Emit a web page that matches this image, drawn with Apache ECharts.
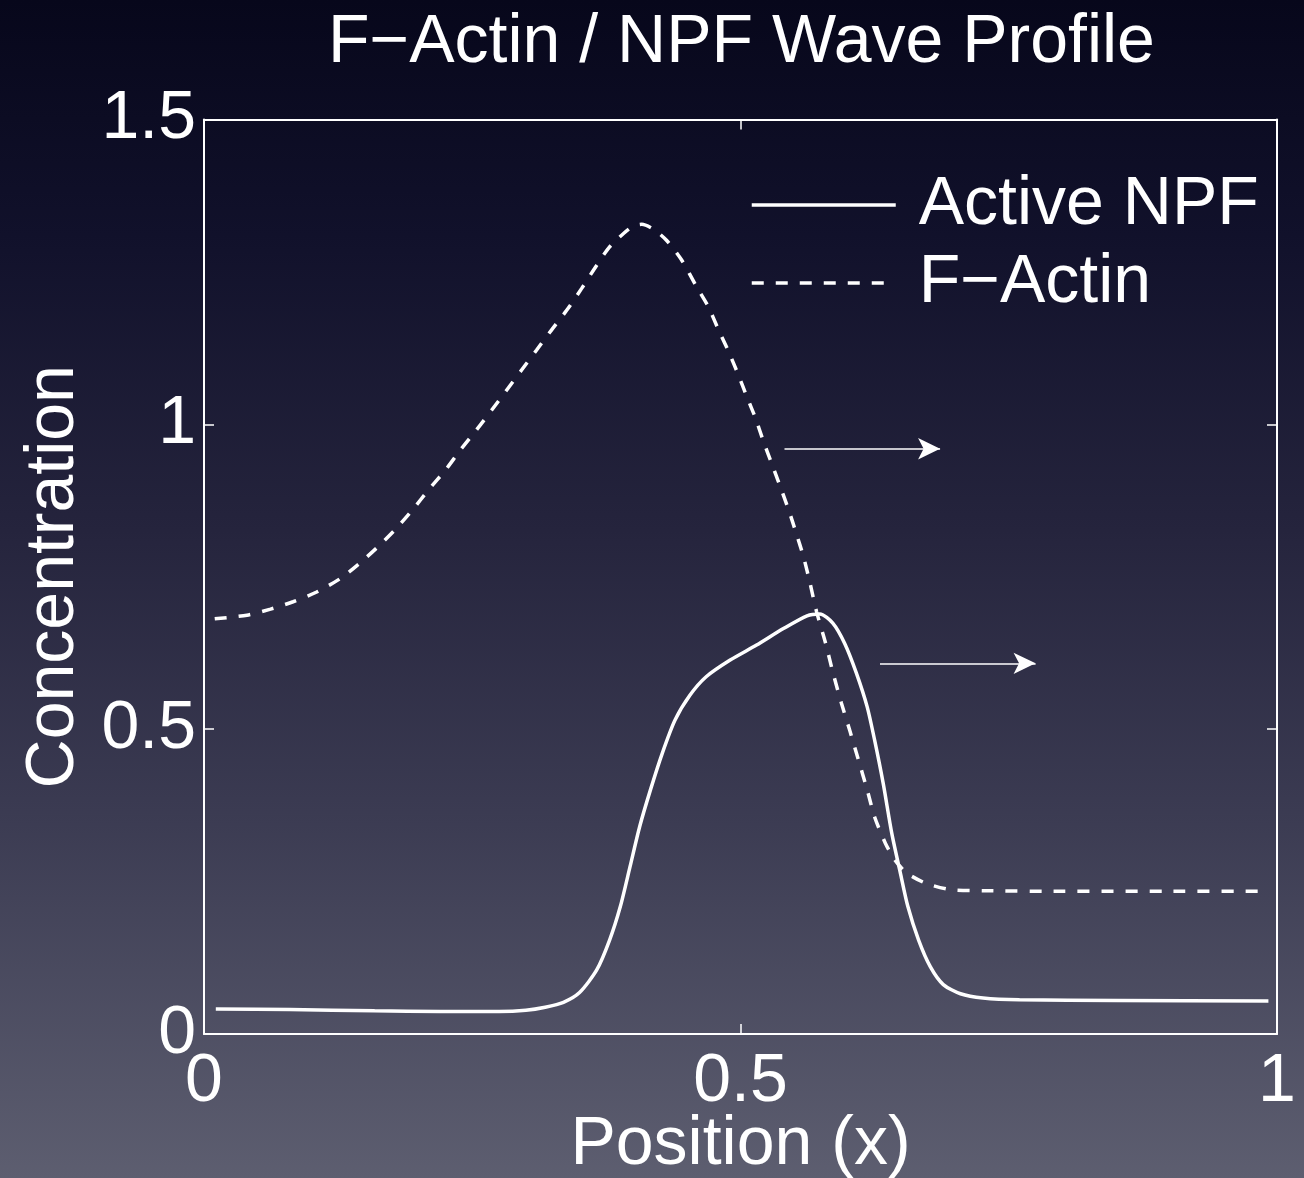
<!DOCTYPE html>
<html>
<head>
<meta charset="utf-8">
<style>
  html, body { margin: 0; padding: 0; background: #1c1c34; }
  #chart { width: 1304px; height: 1178px; }
</style>
<script src="https://cdn.jsdelivr.net/npm/echarts@6/dist/echarts.min.js"></script>
</head>
<body>
<div id="chart"></div>
<script>
// ---- data ----
const titleText = 'F\u2212Actin / NPF Wave Profile';
const xAxisName = 'Position (x)';
const yAxisName = 'Concentration';
const seriesNames = ['Active NPF', 'F\u2212Actin'];

const npfX = [0.011, 0.08, 0.159, 0.22, 0.275, 0.300, 0.318, 0.335, 0.350, 0.366, 0.378, 0.388, 0.397, 0.406,
  0.416, 0.427, 0.439, 0.453, 0.468, 0.490, 0.515, 0.540, 0.562, 0.574, 0.586, 0.597, 0.608, 0.618,
  0.625, 0.633, 0.641, 0.649, 0.656, 0.666, 0.677, 0.689, 0.705, 0.726, 0.760, 0.85, 0.992];
const npfY = [0.041, 0.040, 0.038, 0.037, 0.037, 0.039, 0.044, 0.052, 0.068, 0.105, 0.154, 0.209, 0.274, 0.340,
  0.400, 0.460, 0.515, 0.556, 0.586, 0.613, 0.638, 0.665, 0.686, 0.689, 0.674, 0.641, 0.592, 0.537,
  0.482, 0.411, 0.329, 0.264, 0.209, 0.154, 0.110, 0.081, 0.066, 0.059, 0.056, 0.055, 0.054];

const actinX = [0.01, 0.04, 0.062, 0.083, 0.105, 0.127, 0.145, 0.162, 0.178, 0.194, 0.209, 0.225, 0.239, 0.254,
  0.268, 0.282, 0.296, 0.310, 0.324, 0.338, 0.352, 0.366, 0.378, 0.391, 0.400, 0.408, 0.419, 0.431,
  0.445, 0.459, 0.470, 0.479, 0.489, 0.498, 0.506, 0.514, 0.521, 0.529, 0.537, 0.545, 0.552, 0.559,
  0.565, 0.571, 0.579, 0.586, 0.594, 0.602, 0.610, 0.618, 0.625, 0.635, 0.644, 0.655, 0.673, 0.695,
  0.726, 0.80, 0.90, 0.984];
const actinY = [0.681, 0.687, 0.697, 0.709, 0.725, 0.747, 0.772, 0.799, 0.827, 0.859, 0.892, 0.925, 0.958, 0.991,
  1.023, 1.056, 1.089, 1.122, 1.155, 1.187, 1.223, 1.261, 1.291, 1.313, 1.325, 1.328, 1.320, 1.302,
  1.270, 1.226, 1.193, 1.157, 1.119, 1.081, 1.045, 1.010, 0.974, 0.936, 0.898, 0.859, 0.821, 0.781,
  0.738, 0.692, 0.643, 0.594, 0.543, 0.497, 0.449, 0.401, 0.356, 0.313, 0.285, 0.264, 0.247, 0.237,
  0.235, 0.234, 0.234, 0.234];

// direction arrows (start x, end x, y)
const arrowStartX = [0.541, 0.630];
const arrowEndX = [0.686, 0.775];
const arrowY = [0.960, 0.608];

const xTicks = [0, 0.5, 1];
const yTicks = [0, 0.5, 1, 1.5];

// ---- chart ----
const FONT = "'Liberation Sans', Arial, Helvetica, sans-serif";
const WHITE = '#ffffff';
const zip = (xs, ys) => xs.map((x, i) => [x, ys[i]]);

const chart = echarts.init(document.getElementById('chart'), null, { renderer: 'canvas' });

const tickStyle = { show: true, inside: true, length: 10, lineStyle: { color: WHITE, width: 1.5 } };
const lineAxis = { show: true, onZero: false, lineStyle: { color: WHITE, width: 2 } };

const option = {
  backgroundColor: {
    type: 'linear', x: 0, y: 0, x2: 0, y2: 1,
    colorStops: [
      { offset: 0, color: '#07071b' },
      { offset: 0.2, color: '#11112b' },
      { offset: 0.45, color: '#25243d' },
      { offset: 0.7, color: '#3c3c53' },
      { offset: 1, color: '#5d5e70' }
    ]
  },
  animation: false,
  textStyle: { fontFamily: FONT },
  title: {
    text: titleText,
    left: 328, top: 9, padding: 0,
    textStyle: { color: WHITE, fontSize: 68, fontWeight: 'normal', fontFamily: FONT, lineHeight: 68 }
  },
  legend: {
    orient: 'vertical',
    left: 750, top: 166,
    padding: 0,
    itemGap: 0,
    itemWidth: 144,
    itemHeight: 20,
    data: seriesNames,
    itemStyle: { opacity: 0 },
    lineStyle: { width: 3.5 },
    textStyle: { color: WHITE, fontSize: 68, fontFamily: FONT, lineHeight: 78, padding: [0, 0, 0, 18] }
  },
  grid: { left: 204, right: 27, top: 119.5, bottom: 144, containLabel: false, outerBoundsMode: 'none' },
  xAxis: [
    {
      type: 'value', min: xTicks[0], max: xTicks[xTicks.length - 1], interval: 0.5,
      position: 'bottom',
      name: xAxisName, nameLocation: 'middle', nameGap: 77, nameMoveOverlap: false,
      nameTextStyle: { color: WHITE, fontSize: 68, fontFamily: FONT, lineHeight: 68 },
      axisLine: lineAxis, axisTick: tickStyle, splitLine: { show: false },
      axisLabel: { color: WHITE, fontSize: 68, fontFamily: FONT, margin: 14, lineHeight: 68 }
    },
    {
      type: 'value', min: xTicks[0], max: xTicks[xTicks.length - 1], interval: 0.5,
      position: 'top',
      axisLine: lineAxis, axisTick: tickStyle, splitLine: { show: false },
      axisLabel: { show: false }
    }
  ],
  yAxis: [
    {
      type: 'value', min: yTicks[0], max: yTicks[yTicks.length - 1], interval: 0.5,
      position: 'left',
      name: yAxisName, nameLocation: 'middle', nameGap: 116, nameMoveOverlap: false,
      nameTextStyle: { color: WHITE, fontSize: 68, fontFamily: FONT, lineHeight: 68 },
      axisLine: lineAxis, axisTick: tickStyle, splitLine: { show: false },
      axisLabel: { color: WHITE, fontSize: 68, fontFamily: FONT, margin: 8 }
    },
    {
      type: 'value', min: yTicks[0], max: yTicks[yTicks.length - 1], interval: 0.5,
      position: 'right',
      axisLine: lineAxis, axisTick: tickStyle, splitLine: { show: false },
      axisLabel: { show: false }
    }
  ],
  series: [
    {
      name: seriesNames[0],
      type: 'line',
      data: zip(npfX, npfY),
      showSymbol: false, symbol: 'none',
      smooth: 0.25,
      lineStyle: { color: WHITE, width: 3.5, type: 'solid' },
      itemStyle: { color: WHITE },
      markLine: {
        silent: true,
        symbol: ['none', 'arrow'],
        symbolSize: [16, 22],
        label: { show: false },
        lineStyle: { color: WHITE, width: 1.5, type: 'solid' },
        data: arrowY.map((y, i) => [
          { coord: [arrowStartX[i], y] },
          { coord: [arrowEndX[i], y] }
        ])
      }
    },
    {
      name: seriesNames[1],
      type: 'line',
      data: zip(actinX, actinY),
      showSymbol: false, symbol: 'none',
      smooth: 0.25,
      lineStyle: { color: WHITE, width: 3.5, type: [12, 12] },
      itemStyle: { color: WHITE }
    }
  ]
};
chart.setOption(option);
</script>
</body>
</html>
